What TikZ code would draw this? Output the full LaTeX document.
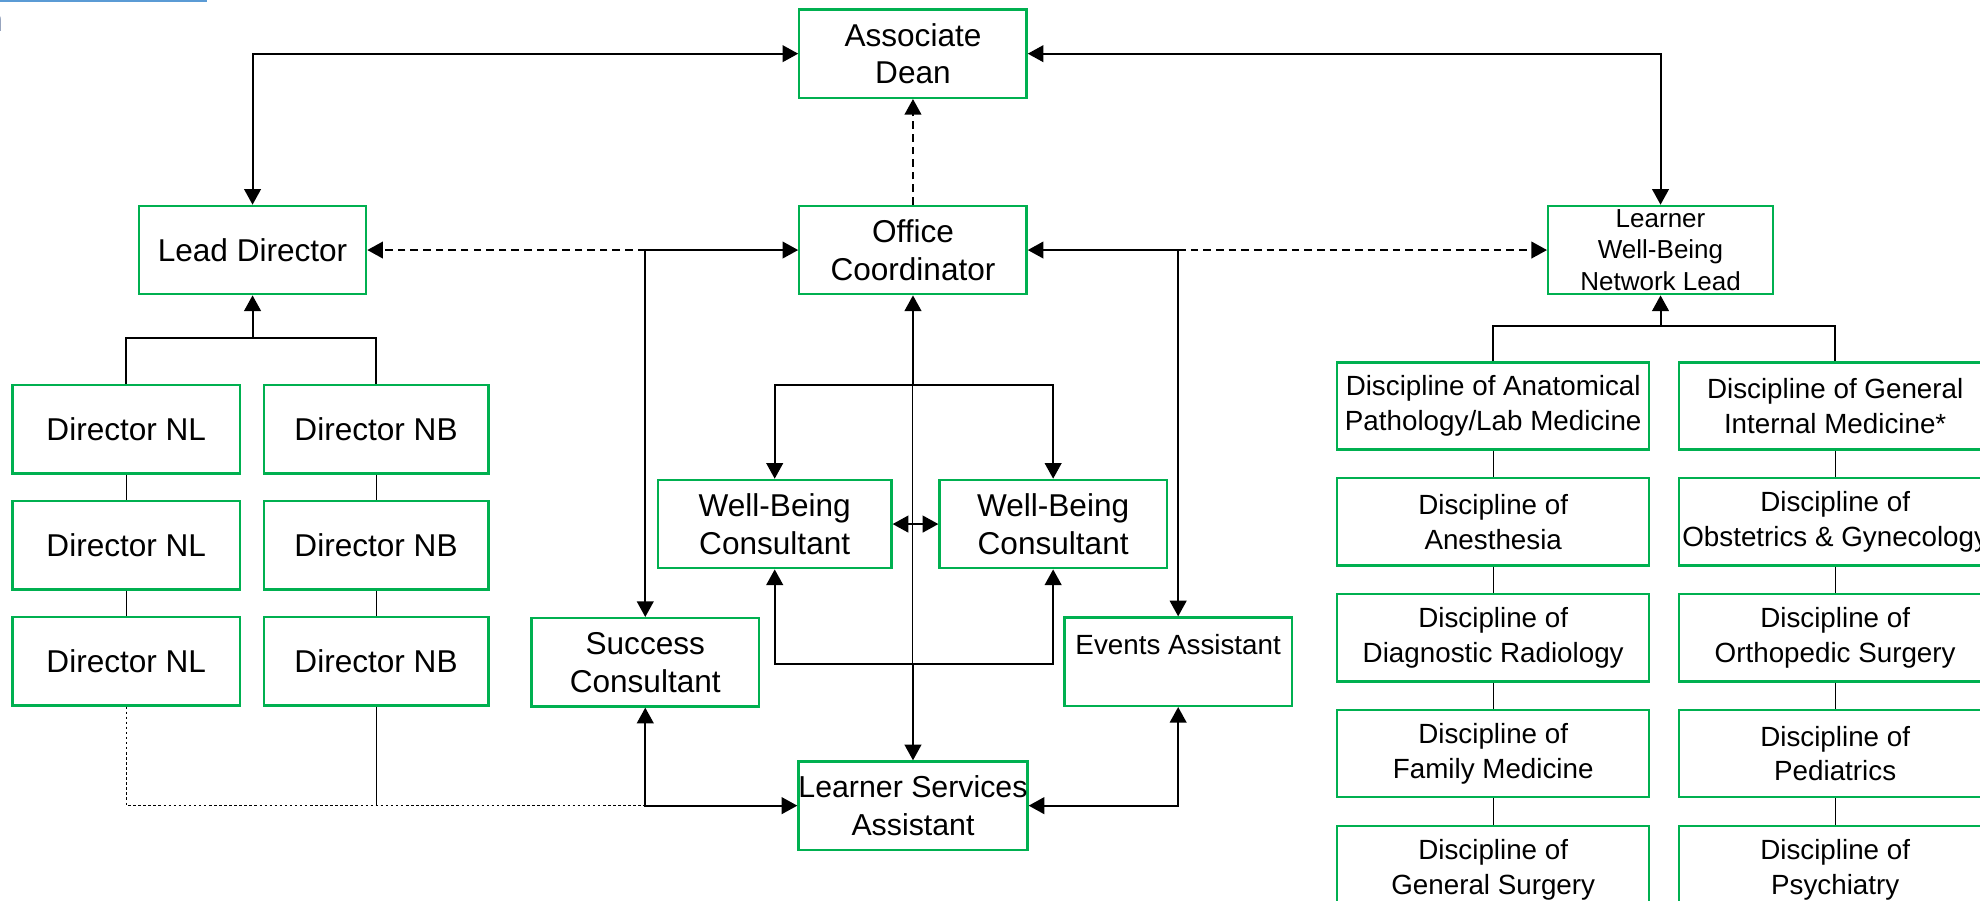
\documentclass[tikz,border=0pt]{standalone}
\usepackage{fontspec}
\setmainfont{Liberation Sans}
\usepackage{tikz}
\usetikzlibrary{arrows.meta}
\usetikzlibrary{positioning}
\definecolor{unitgreen}{RGB}{0,176,80}
\definecolor{topblue}{RGB}{91,155,213}
\definecolor{navyblue}{RGB}{0,32,96}
\tikzset{
  unitbox/.style={draw=unitgreen, line width=0.9pt, minimum width=90pt, minimum height=35pt,
    inner sep=0pt, align=center, font=\fontsize{12.5}{15}\selectfont},
  discbox/.style={unitbox, minimum width=123.5pt, minimum height=34.5pt, font=\fontsize{11}{13.7}\selectfont},
  wire/.style={line width=0.8pt},
  fine/.style={line width=0.4pt},
  feed/.style={wire, -{Triangle[length=6.2pt,width=6.6pt]}},
  feedboth/.style={wire, {Triangle[length=6.2pt,width=6.6pt]}-{Triangle[length=6.2pt,width=6.6pt]}},
  dashline/.style={dash pattern=on 3pt off 2pt},
}

\begin{document}
\begin{tikzpicture}[x=0.5pt, y=-0.5pt]
    \useasboundingbox (0,0) rectangle (1568,713.5);
    \draw[topblue, line width=1pt] (0,0.6) -- (164,0.6);
    \node[anchor=base east, text=navyblue, inner sep=0pt, font=\fontsize{14}{16}\selectfont\bfseries] (cut) at (2.5,25) {n};

    \node[unitbox] (dean) at (723,42.5) {Associate\\Dean};
    \node[unitbox] (coord) at (723,198) {Office\\Coordinator};
    \node[unitbox] (lead) at (200,198) {Lead Director};
    \node[unitbox, minimum width=89pt,
      label={[font=\fontsize{10.3}{12.6}\selectfont, align=center]center:Learner\\Well-Being\\Network Lead}] (wbnl) at (1315,198) {};

    \node[unitbox] (nl1) at (100,340) {Director NL};
    \node[unitbox, below=10pt of nl1] (nl2) {Director NL};
    \node[unitbox, below=10pt of nl2] (nl3) {Director NL};
    \node[unitbox, minimum width=89pt, right=8.5pt of nl1] (nb1) {Director NB};
    \node[unitbox, minimum width=89pt, right=8.5pt of nl2] (nb2) {Director NB};
    \node[unitbox, minimum width=89pt, right=8.5pt of nl3] (nb3) {Director NB};

    \node[unitbox, minimum width=92.5pt] (wbc1) at (613.5,415) {Well-Being\\Consultant};
    \node[unitbox] (wbc2) at (834,415) {Well-Being\\Consultant};
    \node[unitbox] (success) at (511,524.5) {Success\\Consultant};
    \node[unitbox, font=\fontsize{11}{13.5}\selectfont] (events) at (933,524) {Events Assistant\\\mbox{}};
    \node[unitbox, font=\fontsize{12}{15}\selectfont] (lsa) at (723,638) {Learner Services\\Assistant};

    \node[discbox] (da1) at (1182.5,321.5) {Discipline of Anatomical\\Pathology/Lab Medicine};
    \node[discbox, below=10.5pt of da1] (da2) {Discipline of\\Anesthesia};
    \node[discbox, below=10.5pt of da2] (da3) {Discipline of\\Diagnostic Radiology};
    \node[discbox, below=10.5pt of da3] (da4) {Discipline of\\Family Medicine};
    \node[discbox, below=10.5pt of da4] (da5) {Discipline of\\General Surgery};
    \node[discbox, right=11pt of da1] (db1) {Discipline of General\\Internal Medicine*};
    \node[discbox, right=11pt of da2] (db2) {Discipline of\\Obstetrics \& Gynecology};
    \node[discbox, right=11pt of da3] (db3) {Discipline of\\Orthopedic Surgery};
    \node[discbox, right=11pt of da4] (db4) {Discipline of\\Pediatrics};
    \node[discbox, right=11pt of da5] (db5) {Discipline of\\Psychiatry};

    \coordinate (jl) at (success.north |- coord.west);
    \coordinate (jr) at (events.north |- coord.east);
    \coordinate (ct) at (723,305);
    \coordinate (cb) at (723,526);
    \coordinate (dt) at (200,268);
    \coordinate (wt) at (1315,258);
    \coordinate (js) at (success.south |- lsa.west);

    \draw[feedboth] (dean.west) -| (lead.north);
    \draw[feedboth] (dean.east) -| (wbnl.north);
    \draw[feed, dashline] (coord.north) -- (dean.south);
    \draw[feed, dashline] (jl) -- (lead.east);
    \draw[feed] (jl) -- (coord.west);
    \draw[feed] (jl) -- (success.north);
    \draw[feed] (jr) -- (coord.east);
    \draw[feed, dashline] (jr) -- (wbnl.west);
    \draw[feed] (jr) -- (events.north);

    \draw[fine] (ct) -- (cb);
    \draw[feed] (ct) -- (coord.south);
    \draw[feed] (ct) -| (wbc1.north);
    \draw[feed] (ct) -| (wbc2.north);
    \draw[feed] (cb) -- (lsa.north);
    \draw[feed] (cb) -| (wbc1.south);
    \draw[feed] (cb) -| (wbc2.south);
    \draw[feedboth] (wbc1.east) -- (wbc2.west);
    \draw[feedboth] (lsa.west) -| (success.south);
    \draw[feedboth] (lsa.east) -| (events.south);

    \draw[feed] (dt) -- (lead.south);
    \draw[wire] (nl1.north) |- (dt) -| (nb1.north);
    \draw[fine] (nl1.south) -- (nl2.north) (nl2.south) -- (nl3.north);
    \draw[fine] (nb1.south) -- (nb2.north) (nb2.south) -- (nb3.north);
    \draw[fine] (nb3.south) -- (nb3.south |- js);
    \draw[fine, dash pattern=on 1pt off 1pt] (nl3.south) |- (js);

    \draw[feed] (wt) -- (wbnl.south);
    \draw[wire] (da1.north) |- (wt) -| (db1.north);
    \draw[fine] (da1.south) -- (da2.north) (da2.south) -- (da3.north) (da3.south) -- (da4.north) (da4.south) -- (da5.north);
    \draw[fine] (db1.south) -- (db2.north) (db2.south) -- (db3.north) (db3.south) -- (db4.north) (db4.south) -- (db5.north);
\end{tikzpicture}
\end{document}
